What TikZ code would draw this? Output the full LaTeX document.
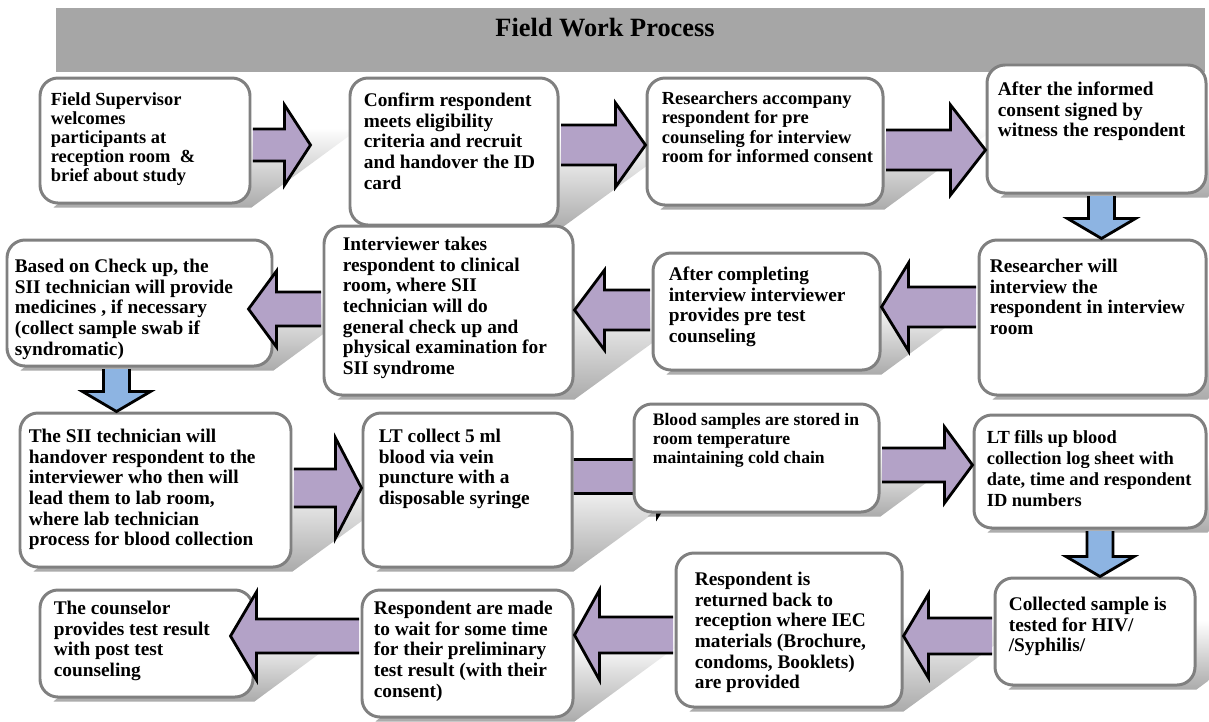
\documentclass[tikz,border=0pt]{standalone}
\usepackage{fontspec}
\setmainfont{Liberation Serif}
\usetikzlibrary{calc,fit,backgrounds}
\definecolor{lilla}{HTML}{B3A2C7}
\definecolor{celeste}{HTML}{8DB4E2}
\definecolor{bordo}{HTML}{808080}
\definecolor{barra}{HTML}{A6A6A6}
\tikzset{
fase/.style={draw=bordo,line width=1.7pt,rounded corners=0.36cm,fill=white,inner sep=0pt},
testo/.style={anchor=north west,inner sep=0pt,align=left,font=\bfseries\fontsize{11}{11.8}\selectfont},
stretto/.style={font=\bfseries\fontsize{10.5}{11.8}\selectfont},
ombra/.style={top color=white,bottom color=black!33,draw=none},
freccia/.style={draw=black,line width=1.6pt,line join=miter,fill=lilla},
frecciagiu/.style={draw=black,line width=1.6pt,line join=miter,fill=celeste},
orizz/.style n args={3}{to path={let \p1=(\tikztostart),\p2=(\tikztotarget),\n1={ifthenelse(\x2>\x1,1,-1)} in
 (\x1,\y1+#1) -- ({\x2-\n1*(#3)},\y1+#1) -- ({\x2-\n1*(#3)},\y1+#2) -- (\x2,\y1)
 -- ({\x2-\n1*(#3)},\y1-#2) -- ({\x2-\n1*(#3)},\y1-#1) -- (\x1,\y1-#1)}},
verticale/.style n args={3}{to path={let \p1=(\tikztostart),\p2=(\tikztotarget) in
 (\x1-#1,\y1) -- (\x1-#1,\y2+#3) -- (\x1-#2,\y2+#3) -- (\x1,\y2)
 -- (\x1+#2,\y2+#3) -- (\x1+#1,\y2+#3) -- (\x1+#1,\y1)}}
}

\begin{document}
\begin{tikzpicture}[x=0.02cm,y=-0.02cm]
\useasboundingbox (0,0) rectangle (1209,721);

\node[fill=barra,inner sep=0pt,fit={(56,8) (1205,72)}] (barra) {};
\node[font=\bfseries\fontsize{15}{18}\selectfont] (titolo) at (605,28) {Field Work Process};

\node[fase,fit={(40,78) (250,203)}] (b1) {};
\node[fase,fit={(350,78) (558,225)}] (b2) {};
\node[fase,fit={(647,78) (883,205)}] (b3) {};
\node[fase,fit={(987,65) (1206,193)}] (b4) {};
\node[fase,fit={(979,240) (1206,395)}] (b5) {};
\node[fase,fit={(653,253) (880,370)}] (b6) {};
\node[fase,fit={(324,226) (573,395)}] (b7) {};
\node[fase,fit={(7,240) (272,366)}] (b8) {};
\node[fase,fit={(20,413) (291,567)}] (b9) {};
\node[fase,fit={(363,413) (572,567)}] (b10) {};
\node[fase,fit={(634,404) (879,512)}] (b11) {};
\node[fase,fit={(974,415) (1206,528)}] (b12) {};
\node[fase,fit={(995,578) (1195,685)}] (b13) {};
\node[fase,fit={(676,553) (902,707)}] (b14) {};
\node[fase,fit={(362,590) (573,717)}] (b15) {};
\node[fase,fit={(40,590) (253,697)}] (b16) {};

\node[testo,font=\bfseries\fontsize{10.5}{10.8}\selectfont] (t1) at ([shift={(12,16)}]b1.north west) {Field Supervisor\\welcomes\\participants at\\reception room \ \&\\brief about study};
\node[testo] (t2) at ([shift={(15,16)}]b2.north west) {Confirm respondent\\meets eligibility\\criteria and recruit\\and handover the ID\\card};
\node[testo,stretto] (t3) at ([shift={(16,15)}]b3.north west) {Researchers accompany\\[-0.8pt]respondent for pre\\[-0.8pt]counseling for interview\\[-0.8pt]room for informed consent};
\node[testo] (t4) at ([shift={(12,18)}]b4.north west) {After the informed\\consent signed by\\witness the respondent};
\node[testo] (t5) at ([shift={(12,20)}]b5.north west) {Researcher will\\interview the\\respondent in interview\\room};
\node[testo] (t6) at ([shift={(17,15)}]b6.north west) {After completing\\interview interviewer\\provides pre test\\counseling};
\node[testo] (t7) at ([shift={(20,12)}]b7.north west) {Interviewer takes\\respondent to clinical\\room, where SII\\technician will do\\general check up and\\physical examination for\\SII syndrome};
\node[testo] (t8) at ([shift={(9,20)}]b8.north west) {Based on Check up, the\\SII technician will provide\\medicines , if necessary\\(collect sample swab if\\syndromatic)};
\node[testo] (t9) at ([shift={(10,17)}]b9.north west) {The SII technician will\\handover respondent to the\\interviewer who then will\\lead them to lab room,\\where lab technician\\process for blood collection};
\node[testo] (t10) at ([shift={(17,17)}]b10.north west) {LT collect 5 ml\\blood via vein\\puncture with a\\disposable syringe};
\node[testo,font=\bfseries\fontsize{10}{11.8}\selectfont] (t11) at ([shift={(20,10)}]b11.north west) {Blood samples are stored in\\[-0.5pt]room temperature\\[-1pt]maintaining cold chain};
\node[testo,font=\bfseries\fontsize{10.5}{11.8}\selectfont] (t12) at ([shift={(14,17)}]b12.north west) {LT fills up blood\\collection log sheet with\\date, time and respondent\\ID numbers};
\node[testo] (t13) at ([shift={(15,20)}]b13.north west) {Collected sample is\\tested for HIV/\\/Syphilis/};
\node[testo] (t14) at ([shift={(20,20)}]b14.north west) {Respondent is\\returned back to\\reception where IEC\\materials (Brochure,\\condoms, Booklets)\\are provided};
\node[testo] (t15) at ([shift={(13,12)}]b15.north west) {Respondent are made\\to wait for some time\\for their preliminary\\test result (with their\\consent)};
\node[testo] (t16) at ([shift={(15,12)}]b16.north west) {The counselor\\provides test result\\with post test\\counseling};

\draw[freccia,orizz={0.32cm}{0.8cm}{0.52cm}] ([xshift=0.03cm,yshift=-0.09cm]b1.east) to ([xshift=-0.76cm]b2.west);
\draw[freccia,orizz={0.4cm}{0.84cm}{0.6cm}] ([xshift=0.03cm,yshift=0.13cm]b2.east) to (b3.west);
\draw[freccia,orizz={0.4cm}{0.9cm}{0.7cm}] ([xshift=0.03cm,yshift=-0.17cm]b3.east) to (b4.west);
\draw[frecciagiu,verticale={0.26cm}{0.68cm}{0.4cm}] ([xshift=0.1cm,yshift=-0.03cm]b4.south) to (b5.north);
\draw[freccia,orizz={0.4cm}{0.88cm}{0.54cm}] ([xshift=-0.03cm,yshift=0.21cm]b5.west) to (b6.east);
\draw[freccia,orizz={0.4cm}{0.8cm}{0.6cm}] ([xshift=-0.03cm,yshift=0.03cm]b6.west) to (b7.east);
\draw[freccia,orizz={0.34cm}{0.76cm}{0.56cm}] ([xshift=-0.03cm,yshift=0.03cm]b7.west) to ([xshift=-0.5cm]b8.east);
\draw[frecciagiu,verticale={0.26cm}{0.68cm}{0.4cm}] ([xshift=-0.46cm,yshift=-0.03cm]b8.south) to (b9.north);
\draw[freccia,orizz={0.38cm}{1cm}{0.52cm}] ([xshift=0.03cm,yshift=0.04cm]b9.east) to (b10.west);
\draw[freccia,orizz={0.34cm}{0.76cm}{0.56cm}] ([xshift=0.03cm,yshift=-0.14cm]b11.east) to (b12.west);
\draw[frecciagiu,verticale={0.26cm}{0.68cm}{0.4cm}] ([xshift=0.2cm,yshift=-0.03cm]b12.south) to (b13.north);
\draw[freccia,orizz={0.36cm}{0.84cm}{0.5cm}] ([xshift=-0.03cm,yshift=-0.09cm]b13.west) to (b14.east);
\draw[freccia,orizz={0.36cm}{0.9cm}{0.5cm}] ([xshift=-0.03cm,yshift=-0.1cm]b14.west) to (b15.east);
\draw[freccia,orizz={0.34cm}{0.88cm}{0.52cm}] ([xshift=-0.03cm,yshift=0.35cm]b15.west) to ([xshift=-0.48cm]b16.east);

\begin{scope}[on background layer]
\foreach \i in {1,...,16}
  \path[ombra] let \p1=(b\i.south west),\p2=(b\i.north east),\n1={\y2-\y1} in
    (\x1+0.3cm,\y1-0.06cm) -- (\x2,\y1-0.06cm) -- ({\x2+0.85*\n1},{\y1+0.6*\n1}) -- ({\x1+0.85*\n1},{\y1+0.6*\n1}) -- cycle;
\draw[freccia,orizz={0.34cm}{0.8cm}{0.5cm}] ([yshift=0.27cm]b10.east) to ([xshift=1cm]b11.west);
\end{scope}
\end{tikzpicture}
\end{document}
